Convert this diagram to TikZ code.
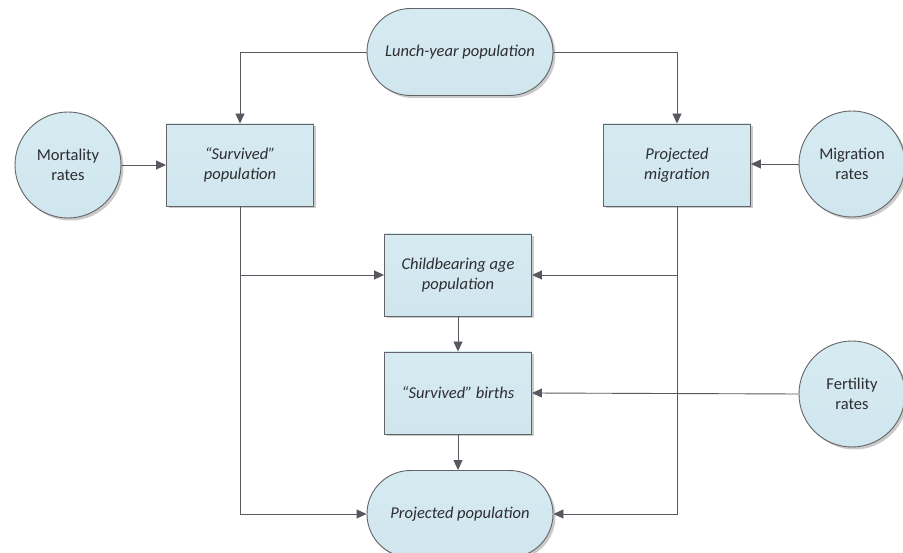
\documentclass[tikz,border=0pt]{standalone}
\usepackage{fontspec}
\setmainfont{Carlito}
\usetikzlibrary{arrows.meta,shapes.misc,shadows}

\definecolor{boxfill}{RGB}{208,230,238}
\definecolor{boxfilltop}{RGB}{214,234,241}
\definecolor{edgegray}{RGB}{100,100,104}
\definecolor{linegray}{RGB}{88,88,96}
\definecolor{textgray}{RGB}{45,45,50}

\tikzset{
  base/.style={draw=edgegray, line width=0.9pt,
    top color=boxfilltop, bottom color=boxfill,
    drop shadow={shadow xshift=2.5pt, shadow yshift=-2.5pt, opacity=0.35, fill=black!60},
    text=textgray, align=center, font=\fontsize{16.5}{20}\selectfont, inner sep=0pt},
  procbox/.style={base, rectangle, minimum width=147pt, minimum height=82pt, font=\fontsize{16.5}{20}\selectfont\itshape},
  terminal/.style={base, rounded rectangle, minimum width=186pt, minimum height=87pt, font=\fontsize{16.5}{20}\selectfont\itshape},
  ratecircle/.style={base, circle, minimum size=106pt},
  flow/.style={draw=linegray, line width=0.9pt, -{Triangle[length=10pt,width=9pt]}},
  plain/.style={draw=linegray, line width=0.9pt}
}

\begin{document}
\begin{tikzpicture}[x=1pt,y=-1pt]
  \useasboundingbox (0,0) rectangle (903,553);

  % nodes
  \node[terminal] (lunch) at (460,52) {Lunch-year population};
  \node[ratecircle] (mort) at (68,165) {Mortality\\rates};
  \node[procbox] (surv) at (240,165) {“Survived”\\population};
  \node[procbox] (pmig) at (677,165) {Projected\\migration};
  \node[ratecircle] (mrate) at (852,164) {Migration\\rates};
  \node[procbox] (child) at (458,275) {Childbearing age\\population};
  \node[procbox] (births) at (458,393) {“Survived” births};
  \node[ratecircle] (fert) at (852,394) {Fertility\\rates};
  \node[terminal] (ppop) at (460,514) {Projected population};

  % junction points on the side trunks
  \coordinate (lj) at (surv.south |- child.west);
  \coordinate (rj) at (pmig.south |- child.east);

  % connectors
  \draw[flow] (lunch.west) -| (surv.north);
  \draw[flow] (lunch.east) -| (pmig.north);
  \draw[flow] (mort.east) -- (surv.west);
  \draw[flow] (mrate.west) -- (mrate.west -| pmig.east);
  \draw[flow] (surv.south) |- (ppop.west);
  \draw[flow] (pmig.south) |- (ppop.east);
  \draw[flow] (lj) -- (child.west);
  \draw[flow] (rj) -- (child.east);
  \draw[flow] (child.south) -- (births.north);
  \draw[flow] (fert.west) -- (births.east);
  \draw[flow] (births.south) -- (births.south |- ppop.north);
\end{tikzpicture}
\end{document}
